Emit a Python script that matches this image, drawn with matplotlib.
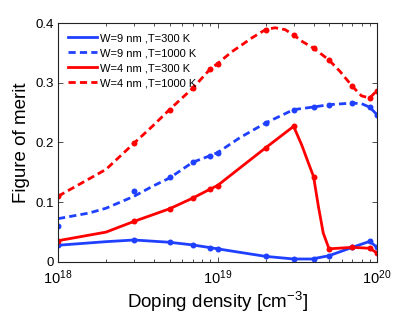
import numpy as np
import matplotlib
matplotlib.use('Agg')
import matplotlib.pyplot as plt
from matplotlib.ticker import LogLocator, NullFormatter

plt.rcParams['font.family'] = ['Liberation Sans', 'DejaVu Sans']
plt.rcParams['mathtext.default'] = 'regular'

# doping density where the simulations were done (cm^-3)
doping = [1e18, 3e18, 5e18, 7e18, 9e18, 1e19, 2e19, 3e19, 4e19, 5e19, 7e19, 9e19, 1e20]

# figure of merit at those points (markers)
w9_300 = [0.028, 0.0368, 0.033, 0.0285, 0.024, 0.022, 0.0094, 0.005, 0.005, 0.0105, 0.0245, 0.0345, 0.0245]
w9_1000 = [0.061, 0.119, 0.142, 0.167, 0.178, 0.183, 0.2326, 0.255, 0.2594, 0.2633, 0.266, 0.259, 0.2465]
w4_300 = [0.0356, 0.068, 0.089, 0.107, 0.122, 0.128, 0.191, 0.227, 0.143, 0.022, 0.0245, 0.023, 0.015]
w4_1000 = [0.110, 0.199, 0.255, 0.291, 0.323, 0.332, 0.389, 0.380, 0.358, 0.338, 0.294, 0.2745, 0.287]

# fitted curves as they are drawn
fit_w9_300_x = [1e18, 2e18, 3e18, 5e18, 7e18, 9e18, 1e19, 2e19, 3e19, 3.9e19, 5e19, 7e19, 9e19, 1e20]
fit_w9_300_y = [0.028, 0.034, 0.0368, 0.033, 0.0285, 0.024, 0.022, 0.0094, 0.005, 0.005, 0.0105, 0.0245, 0.0345, 0.0245]
fit_w9_1000_x = [1e18, 1.57e18, 2e18, 3e18, 3.9e18, 5e18, 7e18, 9e18, 1e19, 1.38e19, 2e19, 3e19, 4e19, 5e19, 7e19, 8e19, 9e19, 1e20]
fit_w9_1000_y = [0.0725, 0.082, 0.090, 0.110, 0.1265, 0.1405, 0.167, 0.178, 0.183, 0.208, 0.2326, 0.255, 0.2594, 0.2633, 0.266, 0.265, 0.259, 0.2465]
fit_w4_300_x = [1e18, 2e18, 3e18, 5e18, 7e18, 9e18, 1e19, 2e19, 3e19, 3.37e19, 3.71e19, 4e19, 4.29e19, 4.6e19, 5e19, 7e19, 9e19, 1e20]
fit_w4_300_y = [0.0356, 0.050, 0.068, 0.089, 0.107, 0.122, 0.128, 0.191, 0.227, 0.196, 0.166, 0.143, 0.093, 0.0485, 0.022, 0.0245, 0.023, 0.015]
fit_w4_1000_x = [1e18, 2e18, 3e18, 3.9e18, 5e18, 7e18, 9e18, 1e19, 1.23e19, 1.38e19, 1.64e19, 2e19, 2.29e19, 2.65e19,
                 3e19, 3.4e19, 4e19, 5e19, 5.86e19, 7e19, 8e19, 9e19, 1e20]
fit_w4_1000_y = [0.110, 0.155, 0.199, 0.227, 0.255, 0.291, 0.323, 0.332, 0.352, 0.361, 0.375, 0.389, 0.392, 0.389,
                 0.380, 0.369, 0.358, 0.338, 0.319, 0.294, 0.278, 0.2745, 0.287]

labels = ['W=9 nm ,T=300 K', 'W=9 nm ,T=1000 K', 'W=4 nm ,T=300 K', 'W=4 nm ,T=1000 K']
xtick_vals = [1e18, 1e19, 1e20]
xtick_labels = ['10$^{18}$', '10$^{19}$', '10$^{20}$']

blue = '#2040ff'
red = '#ff0000'
dash = (0, (2.6, 1.5))

fig = plt.figure(figsize=(4.15, 3.13), dpi=100)
ax = fig.add_axes([0.1398, 0.163, 0.7687, 0.7635])

ax.plot(fit_w9_300_x, fit_w9_300_y, color=blue, lw=2, label=labels[0])
ax.plot(fit_w9_1000_x, fit_w9_1000_y, color=blue, lw=2, ls=dash, label=labels[1])
ax.plot(fit_w4_300_x, fit_w4_300_y, color=red, lw=2, label=labels[2])
ax.plot(fit_w4_1000_x, fit_w4_1000_y, color=red, lw=2, ls=dash, label=labels[3])

ax.plot(doping, w9_300, 'o', color=blue, ms=4.3, mew=0)
ax.plot(doping, w9_1000, 'o', color=blue, ms=4.3, mew=0)
ax.plot(doping, w4_300, 'o', color=red, ms=4.3, mew=0)
ax.plot(doping, w4_1000, 'o', color=red, ms=4.3, mew=0)

ax.set_xscale('log')
ax.set_xlim(1e18, 1e20)
ax.set_ylim(0, 0.4)
ax.set_yticks([0, 0.1, 0.2, 0.3, 0.4])
ax.set_yticklabels(['0', '0.1', '0.2', '0.3', '0.4'])
ax.set_xticks(xtick_vals)
ax.set_xticklabels(xtick_labels)
ax.xaxis.set_minor_locator(LogLocator(base=10, subs=np.arange(2, 10)))
ax.xaxis.set_minor_formatter(NullFormatter())

ax.tick_params(which='both', direction='in', top=True, right=True, labelsize=9.5, width=0.6, color='#333333')
ax.tick_params(axis='x', labelsize=10.5, pad=4.5)
ax.tick_params(which='major', length=3.5)
ax.tick_params(which='minor', length=2)
ax.tick_params(axis='y', pad=3)
for s in ax.spines.values():
    s.set_linewidth(0.8)
    s.set_color('#222222')

ax.set_xlabel('Doping density [cm$^{\u22123}$]', fontsize=13.5, labelpad=2)
ax.set_ylabel('Figure of merit', fontsize=13.5, labelpad=4)

ax.legend(loc='upper left', frameon=False, fontsize=8, handlelength=2.6, handletextpad=0.3,
          labelspacing=0.45, borderaxespad=0.6, borderpad=0.3)

fig.savefig('out.png', dpi=100)
